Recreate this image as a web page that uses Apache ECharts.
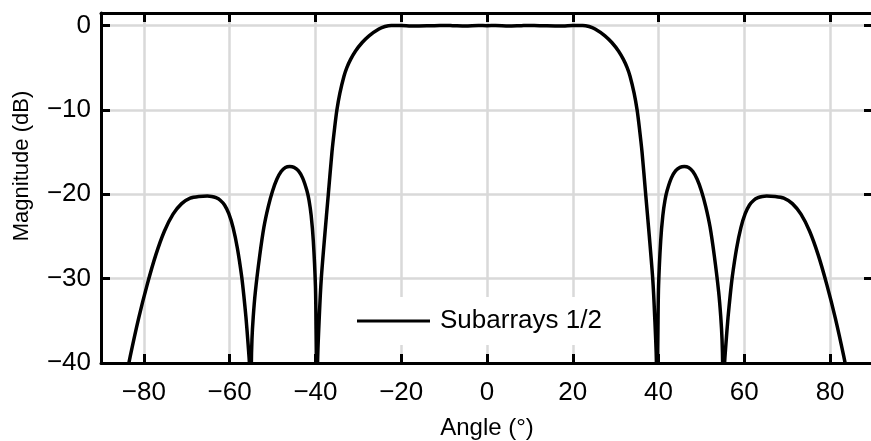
<!DOCTYPE html>
<html>
<head>
<meta charset="utf-8">
<script src="https://cdn.jsdelivr.net/npm/echarts@6/dist/echarts.min.js"></script>
<style>
html,body{margin:0;padding:0;background:#fff;}
#chart{width:871px;height:441px;}
</style>
</head>
<body>
<div id="chart"></div>
<script>
// Angle (deg), negative half
var anglesNeg = [
  -90, -88, -86.2, -84.2, -83.2, -81.2, -79.2, -77.2, -75.2, -73.2, -71.2, -69.2, -67.2, -65.2, -64.2, -63.2, -62.2, -61.2, -60.2, -59.2, -58.2, -57.2, -56.7, -56.2, -55.7, -55.35, -55.05,
  -54.95, -54.8, -54.5, -54, -53, -52, -51, -50, -49, -48, -47, -46, -45, -44, -43, -42, -41.5, -41, -40.5, -40, -39.85, -39.75, -39.7,
  -39.5, -39.1, -38.64, -37.85, -37, -36.15, -35.5, -35, -34.3, -33.35, -32.7, -31.8, -30.65, -29.1, -27.5, -25.2, -23.8, -22.3, -20, -17, -14, -11, -8, -5, -2
];
// Magnitude (dB), negative half
var magNeg = [
  -60, -53, -47.5, -41.9, -39.25, -34.65, -30.65, -27.15, -24.35, -22.35, -21.1, -20.45, -20.25, -20.2, -20.25, -20.4, -20.7, -21.27, -22.3, -23.95, -26.4, -29.75, -32.0, -34.6, -37.8, -40.6, -70,
  -40.5, -37.2, -34.5, -31.5, -27.3, -23.85, -21.45, -19.6, -18.22, -17.3, -16.82, -16.7, -16.8, -17.2, -18.05, -19.55, -20.7, -22.5, -25.5, -30.9, -36, -41, -70,
  -40, -34.5, -30, -25, -20, -15, -12, -10, -8, -6, -5, -4, -3, -2, -1.2, -0.4, -0.1, 0.03, 0.02, -0.05, -0.02, 0.03, 0.0, -0.04, 0.02
];
// Angle (deg), zero and positive half
var anglesPos = [
  0, 2, 5, 8, 11, 14, 17, 20, 22.3, 23.8, 25.2, 27.5, 29.1, 30.65, 31.8, 32.7, 33.35, 34.3, 35, 35.5, 36.15, 37, 37.85, 38.64, 39.1, 39.5,
  39.7, 39.75, 39.85, 40, 40.5, 41, 41.5, 42, 43, 44, 45, 46, 47, 48, 49, 50, 51, 52, 53, 54, 54.5, 54.8, 54.95,
  55.05, 55.35, 55.7, 56.2, 56.7, 57.2, 58.2, 59.2, 60.2, 61.2, 62.2, 63.2, 64.2, 65.2, 67.2, 69.2, 71.2, 73.2, 75.2, 77.2, 79.2, 81.2, 83.2, 84.2, 86.2, 88, 90
];
// Magnitude (dB), zero and positive half
var magPos = [
  0, 0.02, -0.04, 0.0, 0.03, -0.02, -0.05, 0.02, 0.03, -0.1, -0.4, -1.2, -2, -3, -4, -5, -6, -8, -10, -12, -15, -20, -25, -30, -34.5, -40,
  -70, -41, -36, -30.9, -25.5, -22.5, -20.7, -19.55, -18.05, -17.2, -16.8, -16.7, -16.82, -17.3, -18.22, -19.6, -21.45, -23.85, -27.3, -31.5, -34.5, -37.2, -40.5,
  -70, -40.6, -37.8, -34.6, -32.0, -29.75, -26.4, -23.95, -22.3, -21.27, -20.7, -20.4, -20.25, -20.2, -20.25, -20.45, -21.1, -22.35, -24.35, -27.15, -30.65, -34.65, -39.25, -41.9, -47.5, -53, -60
];
var xTicks = [-80, -60, -40, -20, 0, 20, 40, 60, 80];
var yTicks = [-40, -30, -20, -10, 0];
var seriesName = 'Subarrays 1/2';

var FONT = '"Liberation Sans", Arial, Helvetica, sans-serif';
var minus = function (v) { return String(v).replace('-', '\u2212'); };

var angles = anglesNeg.concat(anglesPos);
var magnitude = magNeg.concat(magPos);
var points = angles.map(function (a, i) { return [a, magnitude[i]]; });

var gridColor = '#d9d9d9';
var axisLineStyle = { color: '#000', width: 3 };
var tickStyle = { color: '#000', width: 3 };

var chart = echarts.init(document.getElementById('chart'), null, { renderer: 'canvas' });
chart.setOption({
  animation: false,
  backgroundColor: '#fff',
  grid: { left: 101, top: 13, right: -2, bottom: 78, outerBoundsMode: 'none', containLabel: false },
  legend: {
    data: [{ name: seriesName, icon: 'rect' }],
    left: 345, top: 297,
    padding: [11, 10, 11, 12],
    backgroundColor: '#fff',
    itemWidth: 73, itemHeight: 3,
    textStyle: { fontFamily: FONT, fontSize: 26, color: '#000', padding: [0, 0, 0, 5] }
  },
  xAxis: [{
    type: 'value', position: 'bottom', min: -90, max: 90,
    axisLine: { show: true, onZero: false, lineStyle: axisLineStyle },
    axisTick: { show: true, inside: true, length: 9, lineStyle: tickStyle, customValues: xTicks },
    axisLabel: { customValues: xTicks, fontFamily: FONT, fontSize: 26, color: '#000', margin: 17, formatter: minus },
    splitLine: { show: true, lineStyle: { color: gridColor, width: 2.5 } },
    name: 'Angle (°)', nameLocation: 'middle', nameGap: 53,
    nameTextStyle: { fontFamily: FONT, fontSize: 24, color: '#000' }
  }, {
    type: 'value', position: 'top', min: -90, max: 90,
    axisLine: { show: true, onZero: false, lineStyle: axisLineStyle },
    axisTick: { show: true, inside: true, length: 9, lineStyle: tickStyle, customValues: xTicks },
    axisLabel: { show: false },
    splitLine: { show: false }
  }],
  yAxis: [{
    type: 'value', position: 'left', min: -40, max: 1.5,
    axisLine: { show: true, onZero: false, lineStyle: axisLineStyle },
    axisTick: { show: true, inside: true, length: 9, lineStyle: tickStyle, customValues: yTicks },
    axisLabel: { customValues: yTicks, fontFamily: FONT, fontSize: 26, color: '#000', margin: 10, formatter: minus },
    splitLine: { show: true, lineStyle: { color: gridColor, width: 2.5 } },
    name: 'Magnitude (dB)', nameLocation: 'middle', nameGap: 68, nameRotate: 90,
    nameTextStyle: { fontFamily: FONT, fontSize: 22, color: '#000', padding: [0, 0, 0, 44] }
  }, {
    type: 'value', position: 'right', min: -40, max: 1.5,
    axisLine: { show: true, onZero: false, lineStyle: axisLineStyle },
    axisTick: { show: true, inside: true, length: 9, lineStyle: tickStyle, customValues: yTicks },
    axisLabel: { show: false },
    splitLine: { show: false }
  }],
  series: [{
    name: seriesName,
    type: 'line',
    xAxisIndex: 0, yAxisIndex: 0,
    data: points,
    showSymbol: false, symbol: 'none',
    smooth: 0.25,
    clip: true,
    lineStyle: { color: '#000', width: 3.5 },
    itemStyle: { color: '#000' }
  }]
});
</script>
</body>
</html>
